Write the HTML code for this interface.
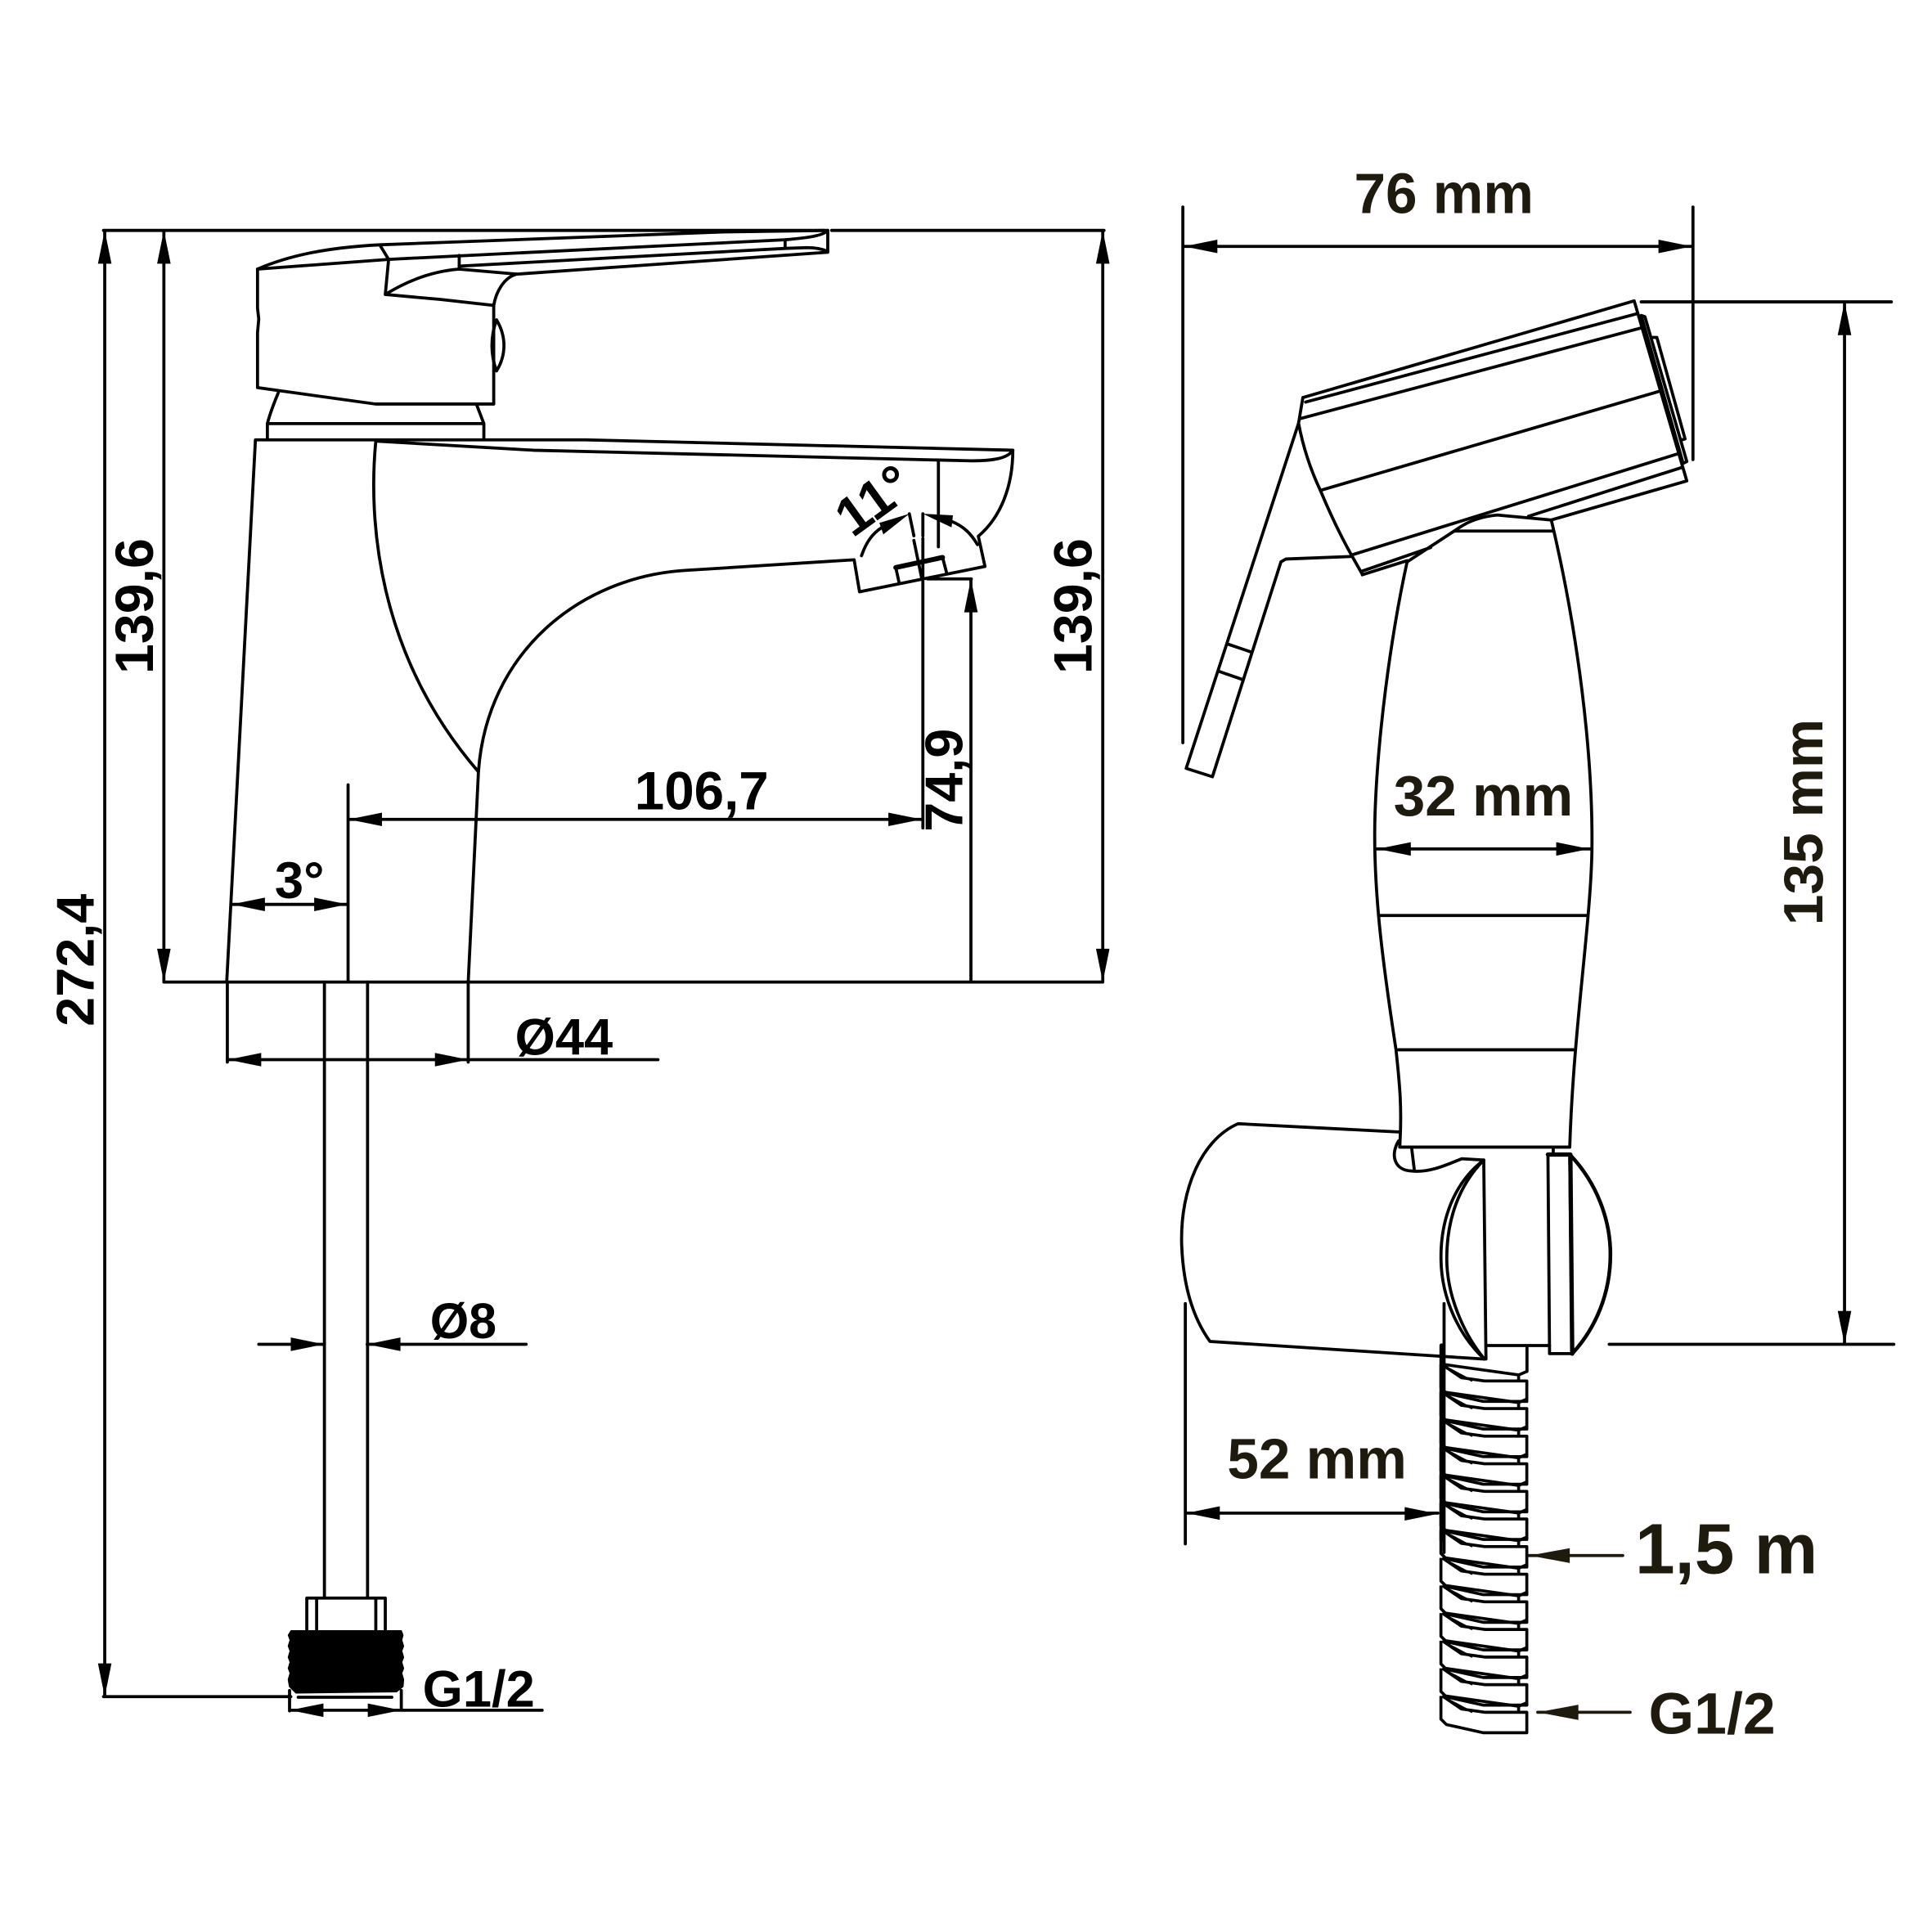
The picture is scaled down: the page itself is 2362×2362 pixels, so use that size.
<!DOCTYPE html>
<html><head><meta charset="utf-8"><style>
html,body{margin:0;padding:0;background:#fff}
svg{display:block}
.t{font-family:"Liberation Sans",sans-serif;font-weight:bold;fill:#000}
.b{fill:#1f1a0e}
</style></head><body>
<svg xmlns="http://www.w3.org/2000/svg" width="2362" height="2362" viewBox="0 0 1568 1568">
<defs>
<path id="ar" d="M0,0 L-27,-5.5 L-27,5.5 Z" fill="#000" stroke="none"/>
<g id="ring">
<path d="M185,-60 V25 L205,45 L340,75 H500 V0 H345 L260,-12 L190,-60 M200,-60 L470,-22 V0 M470,-22 L500,-35" fill="none" stroke="#000" stroke-width="11" stroke-linejoin="round"/>
<path d="M215,-45 L300,0" fill="none" stroke="#000" stroke-width="7"/>
</g>
</defs>
<rect width="1568" height="1568" fill="#fff"/>
<g fill="none" stroke="#000" stroke-width="2.5" stroke-linejoin="round" stroke-linecap="round">
<!-- faucet handle -->
<path d="M209,218.4 C233,208 263,201 308.2,198.7 L588,188.2 L671.8,187 L671.8,204.7 L419.4,222.5"/>
<path d="M209,218.4 L315.4,210.5 L637.2,194.6 C655,193 668,191.5 671.8,187"/>
<path d="M372.7,216 L637.2,201.6 L655,201 C662,201 667,202 671.8,204"/>
<path d="M312.7,239 C332,227 352,220 372.7,218.4 L419.4,222.5 C409,225 402.5,237 400.7,247.9 L357,243 L312.7,239 L315.4,210.5 L308.2,198.7"/>
<path d="M372.7,207.3 V218.4 M637.2,194.6 V201.6"/>
<path d="M209,218.4 V250 L210,259 L209,270 V314.6 L304.7,327.9 H400.7 V247.9"/>
<path d="M403,259.6 C411,273 411,288 403,301 M403,259.6 C398,273 398,288 403,301"/>
<!-- neck -->
<path d="M226,318.4 C222,328 219,336 217,343.8 V356.5 M217,343.8 H392.7 V356.5 M387,328.9 L392.7,343.8"/>
<!-- body -->
<path d="M184,797 L207.3,357 L475,357 L822,365.4 C822,395 812,420 794,435.2 L799.4,459.7 L697.6,480.3 L693.2,454.3 L557,462.9 C470,468 395,530 388.3,626.4 L380,797"/>
<path d="M305,358 L432.7,365.4 L788.3,374 C806,374 818,372 822,365.4"/>
<path d="M305,358 C299,420 305,530 388.3,626.4"/>
<path d="M761.6,374 V443.8"/>
<path d="M729.6,472.4 L727,460.6 L765,452.4 L768.3,465"/>
<path d="M727,460.6 L765,452.4" stroke-width="4"/>
<path d="M738,417 L741.7,434.8 M741.7,438.6 L748,469"/>
<path d="M749,417 V434.8 M749,437 V468 M749,472 V672"/>
<path d="M699.2,451 C703,440 708,433 715.8,428 M793.3,442 C788,433 782,427 772,423"/>
<path d="M752.7,469.8 H788.3"/>
<!-- pipe -->
<path d="M263.3,797 V1297 M298.3,797 V1297 M249,1323 V1297 H312.7 V1323 M257,1297 V1323 M305,1297 V1323"/>
<path d="M282.5,637 V797"/>
<!-- dimension lines left -->
<path d="M84,187 H669 M675,187 H896 M85,187 V1377 M133,187 V797 M895,187 V797 M133,797 H895 M788,470 V797"/>
<path d="M84,1377 H236"/>
<path d="M184.5,797 V862 M380,797 V862 M185,860 H534"/>
<path d="M283,665 H748 M188,734 H282"/>
<path d="M210,1091 H263 M298,1091 H427"/>
<path d="M235,1372 V1388.5 M325.7,1372 V1388 M235,1388 H440"/>
<path d="M242,1377.5 H318"/>
<!-- bidet head -->
<path d="M1057.4,322.7 L1326.3,244.2 L1369,390.3 L1259,422"/>
<path d="M1059.6,326.3 L1328.5,254.6 M1055.8,339.6 L1331,266.4 M1071.6,398 L1346.3,317.7 M1097.7,450.2 L1362.8,368"/>
<path d="M1105.6,463.5 L1161.2,444.3 M1240.5,419 L1364.4,379.6 M1105.6,466.5 L1142,455"/>
<path d="M1332,256 L1335,257 L1369,374.6 L1366,376 Z M1341.5,273.8 L1344.7,273.8 L1367.6,356.2 L1365,357"/>
<path d="M1057.4,322.7 L1053.9,343.5 C1058,365 1064,382 1071.6,398 C1080,418 1088,435 1097.7,452 L1105.6,466"/>
<path d="M1053.9,343.5 L962.7,623.6 L984,630.4 L1039.6,456 L1043.7,453.7 L1096,451.7"/>
<path d="M996.7,522.8 L1015.8,529.3 M989.7,545 L1008.8,551.6"/>
<!-- grip -->
<path d="M1142,456 L1180.2,431 C1186,427 1195,420 1215,418 L1259,422 C1280,510 1293,610 1292,690 C1291,750 1277,835 1274,931 H1136 C1138,900 1136,880 1133,852 C1122,780 1114,720 1116,660 C1118,600 1128,520 1142,456 Z" />
<path d="M1180.2,431 H1259.6 M1119,743 H1288 M1135,852 H1277"/>
<!-- clamp -->
<path d="M1134.9,918.7 L1004.8,912 C975,925 958,965 959,1009 C960,1040 967,1068 982,1088.7 L1204.2,1103"/>
<path d="M1135,926 C1128,938 1132,950 1145.8,950.4 C1160,952 1175,945 1186.4,940.4 L1204.2,941.5 L1206,1103"/>
<path d="M1145.8,932.7 L1147.8,949"/>
<path d="M1204.2,941.5 C1180,960 1169,990 1169.5,1022.3 C1170,1055 1185,1085 1204.8,1103"/>
<path d="M1204.2,941.5 C1184,962 1174,990 1174.2,1022.3 C1174.5,1052 1188,1083 1204.8,1103"/>
<path d="M1206.8,1092 H1257.6 M1239.3,1092 V1113"/>
<path d="M1256.3,937 H1274 L1275.8,1098.6 H1257.6 Z"/>
<path d="M1256.3,937 H1274 M1274.5,937 L1276,1098.6" stroke-width="3.5"/>
<path d="M1274,937 C1296,960 1307,990 1307,1018 C1307,1050 1295,1078 1276,1098.6" stroke-width="3"/>
<path d="M1260.6,931 V937"/>
<!-- dims right -->
<path d="M960,168 V602.8 M1374,168 V373 M961,200 H1373"/>
<path d="M1332,245 H1535 M1497,245 V1091 M1306,1091 H1537"/>
<path d="M1117,689 H1291"/>
<path d="M962,1058 V1253 M1172,1058 V1260 M963,1228 H1167"/>
<path d="M1170,1092 V1250" stroke-width="3.5"/>
<path d="M1241,1262.5 H1317 M1248,1389.7 H1323" stroke="#1f1a0e"/>
</g>
<!-- threaded end -->
<path d="M236,1323 L320,1323 H326 L327.5,1327 L326.5,1331 L328,1336 L326.5,1340 L328,1345 L326.5,1349 L328,1354 L326.5,1358 L328,1363 L327.5,1369 L322,1373.5 L240,1374.5 L234.5,1369 L233.5,1363 L235,1358 L233.5,1354 L235,1349 L233.5,1345 L235,1340 L233.5,1336 L235,1331 L233.5,1327 Z" fill="#000"/>
<!-- hose -->
<g transform="translate(1128.5,1088.7) scale(.2213)">
<use href="#ring" y="145"/><use href="#ring" y="246.25"/><use href="#ring" y="347.5"/><use href="#ring" y="448.75"/>
<use href="#ring" y="550"/><use href="#ring" y="651.25"/><use href="#ring" y="752.5"/><use href="#ring" y="853.75"/>
<use href="#ring" y="955"/><use href="#ring" y="1056.25"/><use href="#ring" y="1157.5"/><use href="#ring" y="1258.75"/><use href="#ring" y="1360"/>
</g>
<!-- arrowheads -->
<use href="#ar" transform="translate(85,187) rotate(-90)"/>
<use href="#ar" transform="translate(85,1377) rotate(90)"/>
<use href="#ar" transform="translate(133,187) rotate(-90)"/>
<use href="#ar" transform="translate(133,797) rotate(90)"/>
<use href="#ar" transform="translate(895,187) rotate(-90)"/>
<use href="#ar" transform="translate(895,797) rotate(90)"/>
<use href="#ar" transform="translate(788,470) rotate(-90)"/>
<use href="#ar" transform="translate(283,665) rotate(180)"/>
<use href="#ar" transform="translate(748,665)"/>
<use href="#ar" transform="translate(188,734) rotate(180)"/>
<use href="#ar" transform="translate(282,734)"/>
<use href="#ar" transform="translate(185,860) rotate(180)"/>
<use href="#ar" transform="translate(380,860)"/>
<use href="#ar" transform="translate(263,1091)"/>
<use href="#ar" transform="translate(298,1091) rotate(180)"/>
<use href="#ar" transform="translate(235.5,1388) rotate(180)"/>
<use href="#ar" transform="translate(325.5,1388)"/>
<path d="M738,417 L713.7,424.4 L716.9,433.7 Z M749,417 L773.4,418.2 L772.3,428 Z" fill="#000"/>
<use href="#ar" transform="translate(961,200) rotate(180)"/>
<use href="#ar" transform="translate(1373,200)"/>
<use href="#ar" transform="translate(1497,245) rotate(-90)"/>
<use href="#ar" transform="translate(1497,1091) rotate(90)"/>
<use href="#ar" transform="translate(1118,689) rotate(180)"/>
<use href="#ar" transform="translate(1290,689)"/>
<use href="#ar" transform="translate(963,1228) rotate(180)"/>
<use href="#ar" transform="translate(1167,1228.6)"/>
<path d="M1241.4,1262.5 L1274,1256.5 V1268.5 Z M1248,1389.7 L1281,1383.5 V1395.9 Z" fill="#1f1a0e"/>
<!-- labels -->
<g class="t" font-size="43">
<text class="t" x="515" y="657" font-size="43.5">106,7</text>
<text class="t" x="223" y="729" font-size="42">3°</text>
<text class="t" x="418" y="856" font-size="42">Ø44</text>
<text class="t" x="349" y="1086" font-size="40.5">Ø8</text>
<text class="t" x="343" y="1385" font-size="42">G1/2</text>
<text class="t" font-size="44" transform="translate(124,547) rotate(-90)">139,6</text>
<text class="t" font-size="44" transform="translate(886,547) rotate(-90)">139,6</text>
<text class="t" font-size="43" transform="translate(76,833) rotate(-90)">272,4</text>
<text class="t" font-size="43" transform="translate(781,675) rotate(-90)">74,9</text>
<text class="t" font-size="44" transform="translate(692,437) rotate(-36)">11°</text>
<text class="t b" x="1099" y="173" font-size="46">76 mm</text>
<text class="t b" x="1131" y="662" font-size="46">32 mm</text>
<text class="t b" x="996" y="1200" font-size="46">52 mm</text>
<text class="t b" font-size="45" transform="translate(1479,751) rotate(-90)">135 mm</text>
<text class="t b" x="1327" y="1277" font-size="58">1,5 m</text>
<text class="t b" x="1338" y="1407" font-size="47.5">G1/2</text>
</g>
</svg>
</body></html>
